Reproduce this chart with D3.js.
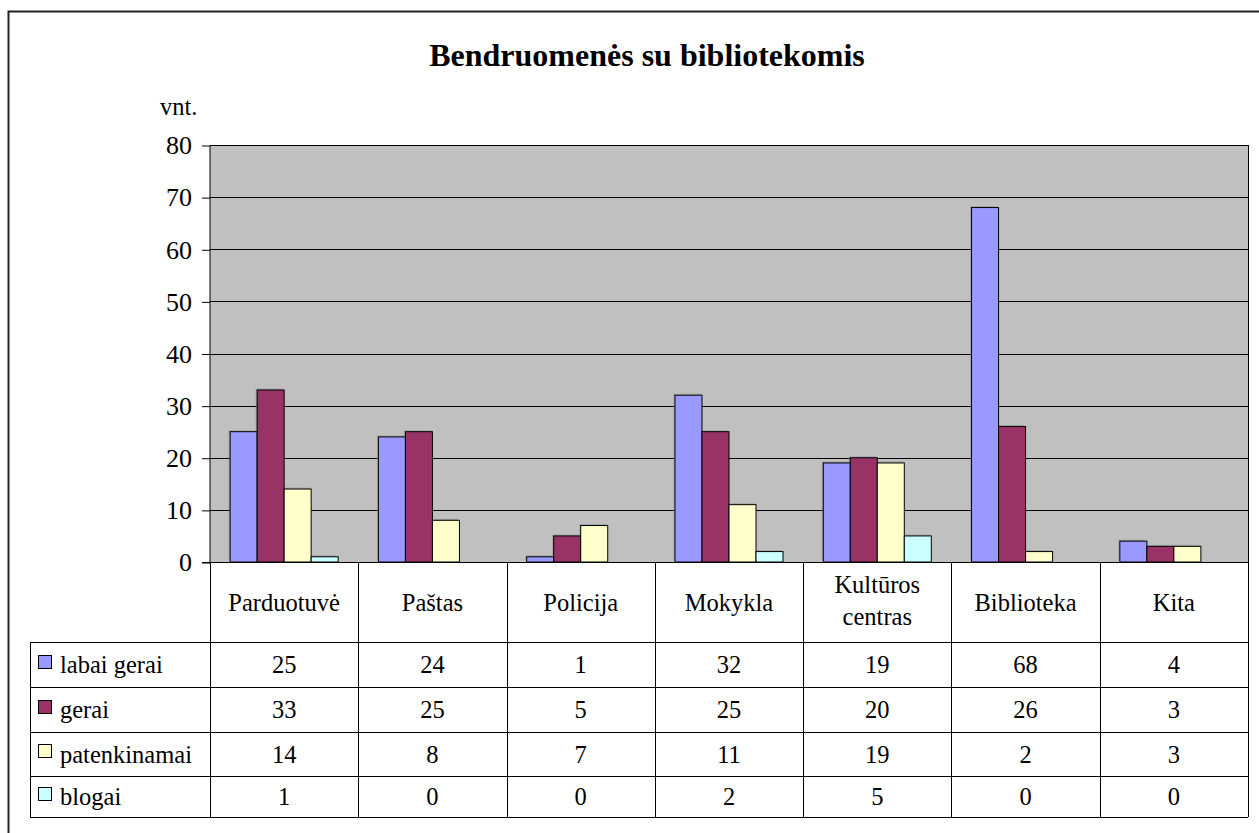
<!DOCTYPE html>
<meta charset="utf-8">
<style>
body { margin: 0; background: #fff; }
.grid line { stroke: #000; stroke-width: 1px; }
.tbl line { stroke: #000; stroke-width: 1px; shape-rendering: crispEdges; }
</style>
<svg width="1259" height="833"></svg>
<script src="https://d3js.org/d3.v7.min.js"></script>
<script>

var categories = ["Parduotuvė", "Paštas", "Policija", "Mokykla", "Kultūros centras", "Biblioteka", "Kita"];
var seriesNames = ["labai gerai", "gerai", "patenkinamai", "blogai"];
var labaiGerai = [25, 24, 1, 32, 19, 68, 4];
var gerai = [33, 25, 5, 25, 20, 26, 3];
var patenkinamai = [14, 8, 7, 11, 19, 2, 3];
var blogai = [1, 0, 0, 2, 5, 0, 0];
var yTicks = [0, 10, 20, 30, 40, 50, 60, 70, 80];
var colors = ["#9999ff", "#993366", "#ffffcc", "#ccffff"];

var series = [labaiGerai, gerai, patenkinamai, blogai];

var svg = d3.select("svg");
var plotL = 210, plotR = 1248, plotT = 145, plotB = 562;
var tableLeft = 30;
var rowLines = [642, 687, 732, 776, 817];
var serif = "'Liberation Serif'";
var fs = 24.5;

function label(x, y, txt, size) {
  return svg.append("text")
    .attr("x", x).attr("y", y)
    .style("font-family", serif)
    .style("font-size", size + "px")
    .attr("fill", "#000")
    .text(txt);
}

// outer frame
svg.append("rect")
  .attr("x", 8.5).attr("y", 11.5)
  .attr("width", 1270).attr("height", 840)
  .attr("fill", "none").attr("stroke", "#222").attr("stroke-width", 2);

label(647, 66, "Bendruomenės su bibliotekomis", 32)
  .attr("text-anchor", "middle")
  .style("font-weight", "bold");

label(160, 115, "vnt.", fs);

var y = d3.scaleLinear().domain([0, 80]).range([plotB, plotT]);
var x0 = d3.scaleBand().domain(categories).range([plotL, plotR]);
var x1 = d3.scaleBand().domain(seriesNames)
  .range([0, x0.bandwidth()]).paddingOuter(0.745).paddingInner(0);

svg.append("rect")
  .attr("x", plotL).attr("y", plotT)
  .attr("width", plotR - plotL).attr("height", plotB - plotT)
  .attr("fill", "#c0c0c0");

var grid = svg.append("g").attr("class", "grid");
grid.selectAll("line").data(yTicks.slice(1)).enter().append("line")
  .attr("x1", plotL).attr("x2", plotR)
  .attr("y1", function(d) { return Math.round(y(d)) + 0.5; })
  .attr("y2", function(d) { return Math.round(y(d)) + 0.5; });

var yAxis = d3.axisLeft(y).tickValues(yTicks).tickSize(8).tickPadding(10);
var ga = svg.append("g").attr("transform", "translate(" + plotL + ",0.5)").call(yAxis);
ga.attr("font-family", serif).attr("font-size", null);
ga.select(".domain").attr("stroke", "#000").attr("d", "M0," + plotT + "V" + plotB);
ga.selectAll(".tick line").attr("stroke", "#000");
ga.selectAll(".tick text")
  .style("font-family", serif)
  .style("font-size", "26px").attr("fill", "#000");

// bars
function cells(d, i) {
  return seriesNames.map(function(s, j) { return {s: s, v: series[j][i], c: colors[j]}; });
}
var groups = svg.append("g").selectAll("g").data(categories).enter().append("g")
  .attr("transform", function(d) { return "translate(" + x0(d) + ",0)"; });

groups.selectAll("rect.shadow")
  .data(cells)
  .enter().append("rect")
  .attr("class", "shadow")
  .attr("x", function(d) { return x1(d.s) - 1.5; })
  .attr("y", function(d) { return y(d.v) - 1.5; })
  .attr("width", x1.bandwidth())
  .attr("height", function(d) { return plotB - y(d.v); })
  .attr("fill", function(d) { return d.v > 0 ? "#8a8a8a" : "none"; })
  .attr("opacity", 0.5);

groups.selectAll("rect.bar")
  .data(cells)
  .enter().append("rect")
  .attr("class", "bar")
  .attr("x", function(d) { return x1(d.s); })
  .attr("y", function(d) { return y(d.v); })
  .attr("width", x1.bandwidth())
  .attr("height", function(d) { return plotB - y(d.v); })
  .attr("fill", function(d) { return d.c; })
  .attr("stroke", function(d) { return d.v > 0 ? "#000" : "none"; })
  .attr("stroke-width", 1);

// data table
var tbl = svg.append("g").attr("class", "tbl");
tbl.append("line").attr("x1", 202).attr("x2", plotR).attr("y1", plotB + 0.5).attr("y2", plotB + 0.5);
rowLines.forEach(function(r) {
  tbl.append("line").attr("x1", tableLeft).attr("x2", plotR).attr("y1", r + 0.5).attr("y2", r + 0.5);
});
tbl.append("line").attr("x1", tableLeft + 0.5).attr("x2", tableLeft + 0.5).attr("y1", rowLines[0]).attr("y2", rowLines[4]);
categories.forEach(function(c) {
  var xx = Math.round(x0(c)) + 0.5;
  tbl.append("line").attr("x1", xx).attr("x2", xx).attr("y1", plotB).attr("y2", rowLines[4])
    .attr("stroke", "#555");
});
tbl.append("line").attr("x1", plotR + 0.5).attr("x2", plotR + 0.5).attr("y1", plotT).attr("y2", rowLines[4])
  .attr("stroke", "#777");

categories.forEach(function(c) {
  var cx = x0(c) + x0.bandwidth() / 2;
  var words = c.split(" ");
  if (words.length === 1) {
    label(cx, 611, c, fs).attr("text-anchor", "middle");
  } else {
    label(cx, 593, words[0], fs).attr("text-anchor", "middle");
    label(cx, 625, words[1], fs).attr("text-anchor", "middle");
  }
});

seriesNames.forEach(function(s, j) {
  var yy = (rowLines[j] + rowLines[j + 1]) / 2;
  svg.append("rect")
    .attr("x", 38.5).attr("y", Math.round(yy - 10) + 0.5)
    .attr("width", 13).attr("height", 13)
    .attr("fill", colors[j]).attr("stroke", "#000");
  label(60, yy + 8.5, s, fs);
  categories.forEach(function(c, i) {
    label(x0(c) + x0.bandwidth() / 2, yy + 8.5, series[j][i], fs)
      .attr("text-anchor", "middle");
  });
});

</script>
